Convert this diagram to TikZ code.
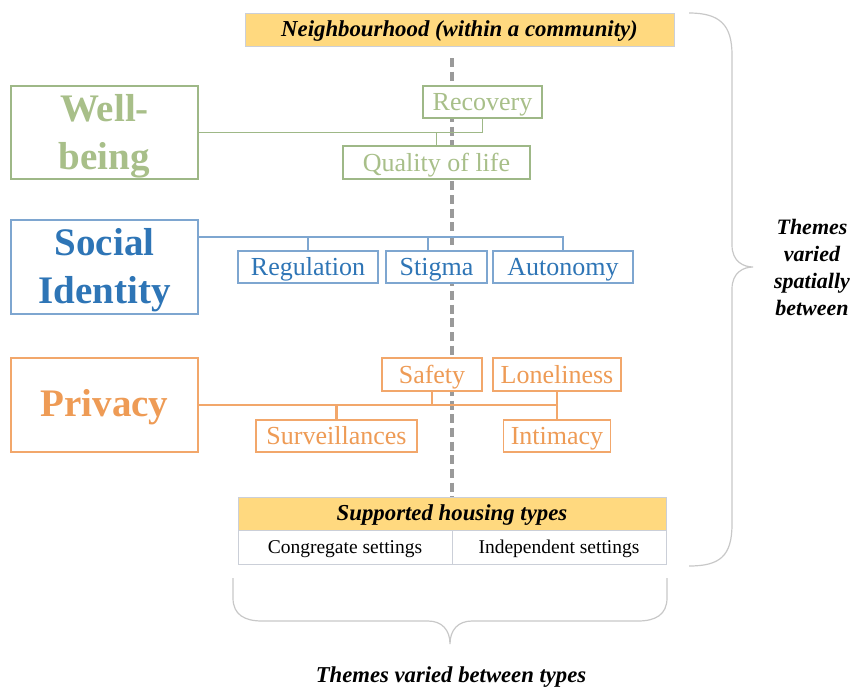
\documentclass[tikz,border=0pt]{standalone}
\usepackage{fontspec}
\setmainfont{Liberation Serif}
\definecolor{wbtext}{HTML}{A8BF89}
\definecolor{wbline}{HTML}{9EB887}
\definecolor{sitext}{HTML}{2E75B6}
\definecolor{siline}{HTML}{7EA6D0}
\definecolor{prtext}{HTML}{EE9B55}
\definecolor{prline}{HTML}{F2A76B}
\definecolor{hdrfill}{HTML}{FFD97F}
\definecolor{hdrline}{HTML}{CBCFD8}
\definecolor{axisgray}{HTML}{9A9A9A}
\definecolor{bracegray}{HTML}{C8C8C8}
\newcommand{\fs}[2]{\fontsize{#1}{#2}\selectfont}
% extra height on the first line lowers a centred block of text
\newcommand{\lift}{\rule{0pt}{34pt}}
\begin{document}
\begin{tikzpicture}[x=1pt,y=-1pt,
  box/.style={draw,fill=white,rectangle,inner sep=0pt,line width=1.3pt,align=center},
  theme/.style={box,font=\fs{39}{48}\bfseries},
  sub/.style={box,font=\fs{26}{30},text height=19pt,text depth=2pt},
  wbbox/.style={draw=wbline,text=wbtext},
  sibox/.style={draw=siline,text=sitext},
  prbox/.style={draw=prline,text=prtext},
  hdr/.style={draw=hdrline,fill=hdrfill,rectangle,inner sep=0pt,line width=1pt,
    font=\fs{22.8}{26}\bfseries\itshape,text height=15pt,text depth=2pt},
  cell/.style={draw=hdrline,fill=white,rectangle,inner sep=0pt,line width=1pt,
    font=\fs{19.5}{24},text height=14pt,text depth=2pt},
  wbcon/.style={draw=wbline,line width=1.9pt},
  sicon/.style={draw=siline,line width=1.9pt},
  prcon/.style={draw=prline,line width=2.3pt},
  axis/.style={draw=axisgray,line width=3.5pt,dash pattern=on 9pt off 4.7pt},
  bracket/.style={draw=bracegray,line width=1.2pt},
  note/.style={font=\fs{22}{27}\bfseries\itshape,align=center,inner sep=0pt}]
\useasboundingbox (0,0) rectangle (853,686);

% header boxes and table
\node[hdr,minimum width=429pt,minimum height=33pt] (nbh) at (459.5,29.5) {Neighbourhood (within a community)};
\node[hdr,minimum width=428pt,minimum height=33pt] (types) at (452,513.5) {Supported housing types};
\node[cell,minimum width=214pt,minimum height=34pt] (cong) at (345,547) {Congregate settings};
\node[cell,minimum width=214pt,minimum height=34pt] (indep) at (559,547) {Independent settings};

% vertical axis between neighbourhood and housing types
\coordinate (axtop) at (452,58);
\draw[axis] (axtop) -- (types.north);

% well-being
\node[theme,wbbox,minimum width=187pt,minimum height=93pt] (wb) at (104.5,132.5) {\lift Well-\\being};
\node[sub,wbbox,minimum width=119pt,minimum height=32pt] (rec) at (482.5,102) {Recovery};
\node[sub,wbbox,minimum width=187pt,minimum height=33pt] (qol) at (436.5,162.5) {Quality of life};
\draw[wbcon] (wb.east) -| (rec.south);
\draw[wbcon] (wb.east -| qol.north) -- (qol.north);

% social identity
\node[theme,sibox,minimum width=187pt,minimum height=94pt] (si) at (104.5,267) {\lift Social\\Identity};
\node[sub,sibox,minimum width=140pt,minimum height=32pt] (reg) at (308,267) {Regulation};
\node[sub,sibox,minimum width=101pt,minimum height=32pt] (sti) at (436.5,267) {Stigma};
\node[sub,sibox,minimum width=140pt,minimum height=32pt] (aut) at (563,267) {Autonomy};
\coordinate (sibus) at (198,237);
\coordinate (stitop) at (428,251);
\draw[sicon] (sibus) -| (aut.north);
\draw[sicon] (reg.north) -- (reg.north |- sibus);
\draw[sicon] (stitop) -- (stitop |- sibus);

% privacy
\node[theme,prbox,minimum width=187pt,minimum height=94pt] (pri) at (104.5,405) {\rule{0pt}{32pt}Privacy};
\node[sub,prbox,minimum width=100pt,minimum height=33pt] (saf) at (432,374.5) {Safety};
\node[sub,prbox,minimum width=128pt,minimum height=33pt] (lon) at (557,374.5) {Loneliness};
\node[sub,prbox,minimum width=161pt,minimum height=32pt] (sur) at (336.5,436) {Surveillances};
\node[sub,prbox,minimum width=107pt,minimum height=32pt] (intim) at (557,436) {Intimacy};
\draw[prcon] (pri.east) -- (pri.east -| lon.south);
\draw[prcon] (lon.south) -- (intim.north);
\draw[prcon] (saf.south) -- (saf.south |- pri.east);
\draw[prcon] (sur.north) -- (sur.north |- pri.east);

% braces
\coordinate (rbtop) at (689,13);
\coordinate (rbbot) at (689,566);
\coordinate (rbtip) at (753,267);
\draw[bracket] (rbtop) .. controls (720,13) and (732,25) .. (732,55) -- (732,245)
  .. controls (732,262) and (744,267) .. (rbtip)
  .. controls (744,267) and (732,272) .. (732,289) -- (732,524)
  .. controls (732,556) and (720,566) .. (rbbot);
\node[note] (spatial) at (812,267) {Themes\\varied\\spatially\\between};

\coordinate (bbl) at (233,578);
\coordinate (bbr) at (667,578);
\coordinate (bbtip) at (450,644);
\draw[bracket] (bbl) -- (233,598) .. controls (233,615) and (245,621) .. (262,621) -- (428,621)
  .. controls (442,621) and (450,630) .. (bbtip)
  .. controls (450,630) and (458,621) .. (472,621) -- (638,621)
  .. controls (655,621) and (667,615) .. (667,598) -- (bbr);
\node[note,font=\fs{22.7}{27}\bfseries\itshape,anchor=base] (between) at (451,682) {Themes varied between types};
\end{tikzpicture}
\end{document}
